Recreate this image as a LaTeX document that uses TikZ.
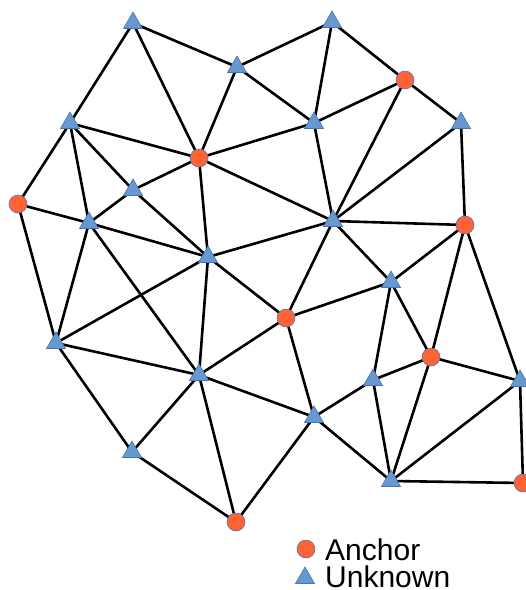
\documentclass[tikz,border=0pt]{standalone}
\usepackage{fontspec}
\setmainfont{Liberation Sans}
\usetikzlibrary{shapes.geometric,backgrounds}
\definecolor{anch}{RGB}{255,99,51}
\definecolor{anchedge}{RGB}{80,120,190}
\definecolor{unk}{RGB}{104,152,208}
\definecolor{unkedge}{RGB}{70,115,180}
\tikzset{
  anchor node/.style={circle,fill=anch,draw=anchedge,line width=0.6pt,minimum size=18pt,inner sep=0pt},
  unknown node/.style={regular polygon,regular polygon sides=3,fill=unk,draw=unkedge,line width=0.6pt,minimum size=22pt,inner sep=0pt},
  link/.style={line width=2.6pt,black},
  legendtext/.style={font=\fontsize{30}{30}\selectfont,anchor=base west,inner sep=0pt,text height=21pt,text depth=0pt}
}
\begin{document}
\begin{tikzpicture}[x=1pt,y=-1pt]
\useasboundingbox (0,0) rectangle (526,590);
% unknowns
\node[unknown node] (T1) at (133,23) {};
\node[unknown node] (T2) at (237,67) {};
\node[unknown node] (T3) at (332,22) {};
\node[unknown node] (T4) at (70,123) {};
\node[unknown node] (T5) at (314,123) {};
\node[unknown node] (T6) at (461,123) {};
\node[unknown node] (T7) at (133,190) {};
\node[unknown node] (T8) at (89,223) {};
\node[unknown node] (T9) at (333,221) {};
\node[unknown node] (T10) at (208,257) {};
\node[unknown node] (T11) at (391,282) {};
\node[unknown node] (T12) at (56,343) {};
\node[unknown node] (T13) at (199,375) {};
\node[unknown node] (T14) at (373,380) {};
\node[unknown node] (T15) at (520,381) {};
\node[unknown node] (T16) at (314,417) {};
\node[unknown node] (T17) at (132,452) {};
\node[unknown node] (T18) at (391,481) {};
% anchors
\node[anchor node] (A1) at (405,80) {};
\node[anchor node] (A2) at (199,158) {};
\node[anchor node] (A3) at (18,204) {};
\node[anchor node] (A4) at (465,225) {};
\node[anchor node] (A5) at (286,318) {};
\node[anchor node] (A6) at (431,357) {};
\node[anchor node] (A7) at (523,483) {};
\node[anchor node] (A8) at (236,522) {};
% legend
\node[anchor node] (LA) at (306,549) {};
\node[unknown node] (LU) at (305,578) {};
\node[legendtext] (LAt) at (325,560) {Anchor};
\node[legendtext] (LUt) at (325,587) {Unknown};
\begin{scope}[on background layer]
\foreach \a/\b in {T1/T4,T1/T2,T1/A2,
  T2/A2,T2/T3,T2/T5,
  T3/T5,T3/A1,
  A1/T5,A1/T9,A1/T6,
  T4/A2,T4/A3,T4/T8,T4/T7,
  T5/A2,T5/T9,
  T6/T9,T6/A4,
  A2/T7,A2/T10,A2/T9,
  T7/T8,T7/T10,
  A3/T8,A3/T12,
  T8/T12,T8/T10,T8/T13,
  T9/A4,T9/T10,T9/A5,T9/T11,
  A4/T11,A4/A6,A4/T15,
  T10/T12,T10/T13,T10/A5,
  T11/A5,T11/T14,T11/A6,
  A5/T13,A5/T16,
  T12/T13,T12/T17,
  A6/T14,A6/T18,A6/T15,
  T13/T17,T13/A8,T13/T16,
  T14/T16,T14/T18,
  T15/T18,T15/A7,
  T16/A8,T16/T18,
  T17/A8,
  T18/A7}
  \draw[link] (\a.center) -- (\b.center);
\end{scope}
\end{tikzpicture}
\end{document}
